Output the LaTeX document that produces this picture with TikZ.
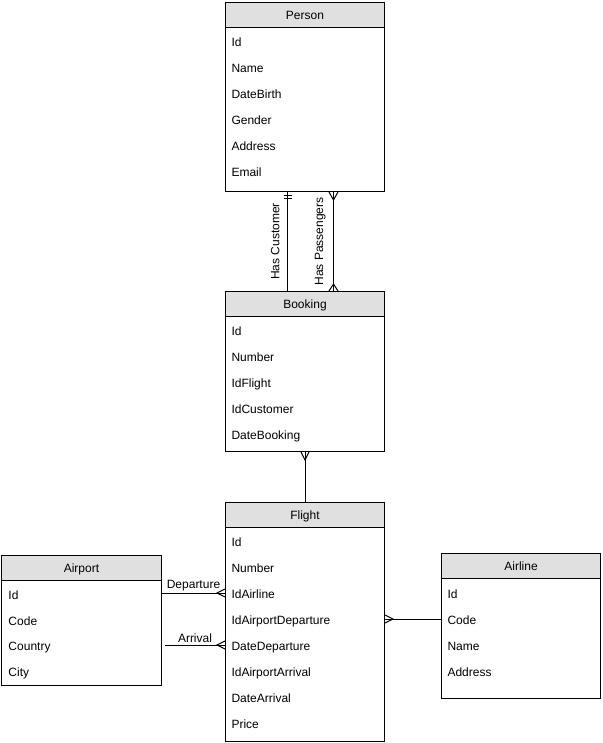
\documentclass[tikz,border=0pt]{standalone}
\usepackage{fontspec}
\setmainfont{Liberation Sans}
\definecolor{headgrey}{RGB}{224,224,224}
\begin{document}
\begin{tikzpicture}[x=1pt,y=-1pt,line width=1pt,font=\fontsize{12}{14}\selectfont,
    entity/.style={draw,anchor=north west,minimum width=159pt,inner sep=0pt},
    head/.style={draw,fill=headgrey,anchor=north west,minimum width=159pt,minimum height=25pt,inner sep=0pt,text depth=0pt},
    attr/.style={anchor=base west,inner sep=0pt},
    lbl/.style={inner sep=2pt},
    vlbl/.style={rotate=90,anchor=south,inner sep=0pt,outer sep=8pt}]
    \useasboundingbox (0,0) rectangle (602,743);
    % Person
    \node[entity,minimum height=189pt] (person) at (225,2) {};
    \node[head] (personhead) at (225,2) {Person};
    \foreach \a [count=\i from 0] in {Id,Name,DateBirth,Gender,Address,Email}
        \node[attr] at (231,46.5+26*\i) {\a};
    % Booking
    \node[entity,minimum height=160pt] (booking) at (225,291) {};
    \node[head] (bookinghead) at (225,291) {Booking};
    \foreach \a [count=\i from 0] in {Id,Number,IdFlight,IdCustomer,DateBooking}
        \node[attr] at (231,335.5+26*\i) {\a};
    % Flight
    \node[entity,minimum height=239pt] (flight) at (225,502) {};
    \node[head] (flighthead) at (225,502) {Flight};
    \foreach \a [count=\i from 0] in {Id,Number,IdAirline,IdAirportDeparture,DateDeparture,IdAirportArrival,DateArrival,Price}
        \node[attr] at (231,546.5+26*\i) {\a};
    % Airport
    \node[entity,minimum width=160pt,minimum height=130pt] (airport) at (1,555) {};
    \node[head,minimum width=160pt] (airporthead) at (1,555) {Airport};
    \foreach \a [count=\i from 0] in {Id,Code,Country,City}
        \node[attr] at (8,599.5+25.5*\i) {\a};
    % Airline
    \node[entity,minimum height=145pt] (airline) at (441,553) {};
    \node[head] (airlinehead) at (441,553) {Airline};
    \foreach \a [count=\i from 0] in {Id,Code,Name,Address}
        \node[attr] at (447,598.5+26*\i) {\a};

    % Person - Booking
    \coordinate (pc) at ([xshift=-17.5pt]person.south);
    \coordinate (bc) at ([xshift=-17.5pt]booking.north);
    \draw (pc) -- node[vlbl] {Has Customer} (bc);
    \draw ([xshift=-4pt,yshift=-4pt]pc) -- ++(8,0);
    \draw ([xshift=-4pt,yshift=-7pt]pc) -- ++(8,0);
    \coordinate (pp) at ([xshift=28.5pt]person.south);
    \coordinate (bp) at ([xshift=28.5pt]booking.north);
    \draw (pp) -- node[vlbl] {Has Passengers} (bp);
    \draw ([xshift=-4.5pt]pp) -- ([yshift=-8pt]pp) -- ([xshift=4.5pt]pp);
    \draw ([xshift=-4.5pt]bp) -- ([yshift=7pt]bp) -- ([xshift=4.5pt]bp);
    % Booking - Flight
    \draw (booking.south) -- (flight.north);
    \draw ([xshift=-4pt]booking.south) -- ([yshift=-8pt]booking.south) -- ([xshift=4pt]booking.south);
    % Airport - Flight
    \coordinate (dep) at (flight.west |- 0,593);
    \coordinate (depa) at (airport.east |- dep);
    \draw (depa) -- node[lbl,above] {Departure} (dep);
    \draw ([yshift=4pt]dep) -- ([xshift=-8pt]dep) -- ([yshift=-4pt]dep);
    \coordinate (arr) at (flight.west |- 0,645);
    \coordinate (arra) at ([xshift=3pt]airport.east |- arr);
    \draw (arra) -- node[lbl,above] {Arrival} (arr);
    \draw ([yshift=4pt]arr) -- ([xshift=-8pt]arr) -- ([yshift=-4pt]arr);
    % Flight - Airline
    \coordinate (fa) at (flight.east |- 0,619);
    \draw (fa) -- (airline.west |- fa);
    \draw ([yshift=4pt]fa) -- ([xshift=8pt]fa) -- ([yshift=-4pt]fa);
\end{tikzpicture}
\end{document}
